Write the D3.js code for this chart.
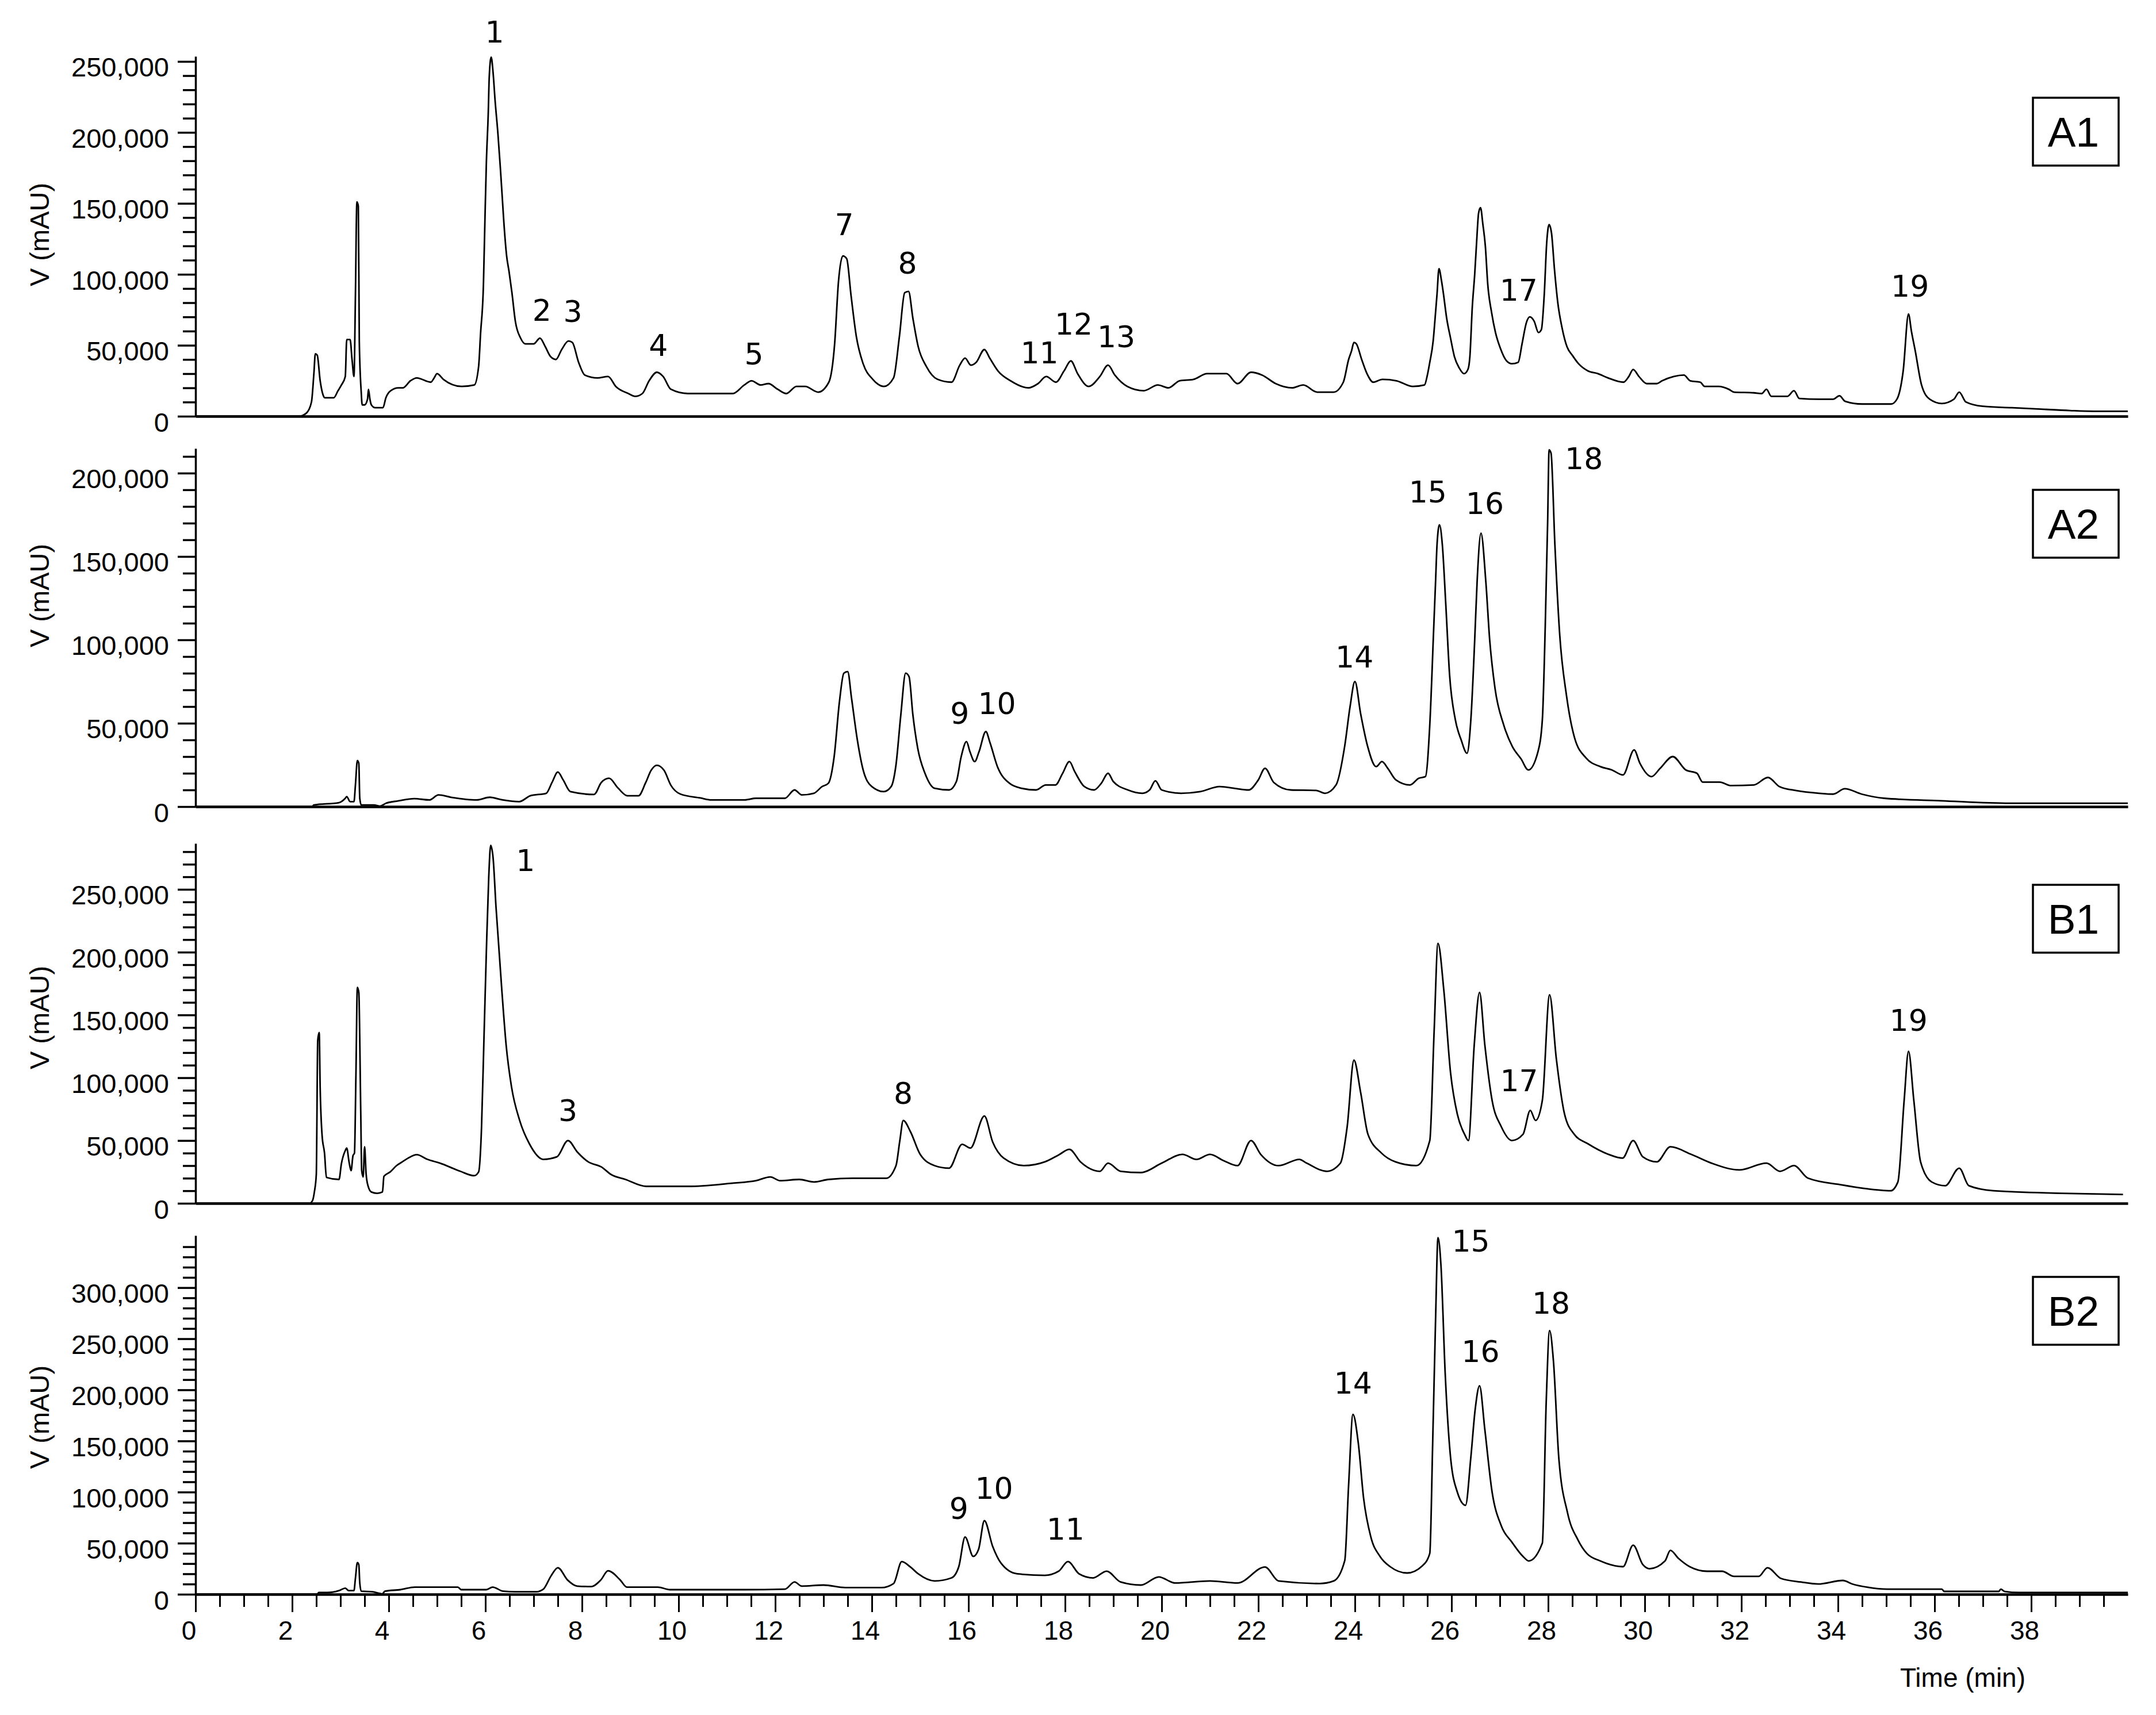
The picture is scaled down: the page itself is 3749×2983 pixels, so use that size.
<!DOCTYPE html>
<html><head><meta charset="utf-8">
<script src="https://cdn.jsdelivr.net/npm/d3@7"></script>
<style>html,body{margin:0;padding:0;background:#fff}</style>
</head><body>
<svg id="chart" width="3749" height="2983" xmlns="http://www.w3.org/2000/svg"></svg>
<script>
// ---------- data (time in min, signal in thousands of mAU) ----------
const timeMajorTicks = [0,2,4,6,8,10,12,14,16,18,20,22,24,26,28,30,32,34,36,38];
const panelNames = ["A1","A2","B1","B2"];
const xAxisTitle = "Time (min)";
const yAxisTitle = "V (mAU)";

const a1Data = [[0,0],[2.14,0],[2.3,2.4],[2.4,10],[2.45,30],[2.48,44],[2.52,43],[2.58,25],[2.64,15],[2.68,13],[2.86,13],[2.95,18],[3.02,22],[3.1,28],[3.13,54],[3.2,54],[3.24,40],[3.28,28],[3.31,85],[3.34,151],[3.37,148],[3.39,53],[3.43,17],[3.45,8],[3.5,8],[3.56,12],[3.58,19],[3.61,12],[3.64,8],[3.72,6],[3.88,6],[3.94,13],[4.04,18],[4.2,20],[4.29,20],[4.45,25],[4.58,27],[4.87,24],[4.94,27],[5.0,30],[5.13,26],[5.51,21],[5.77,22],[5.86,35],[5.9,58],[5.96,93],[5.99,137],[6.02,178],[6.06,214],[6.08,239],[6.12,253],[6.16,242],[6.2,223],[6.26,199],[6.31,175],[6.35,154],[6.38,138],[6.44,113],[6.49,102],[6.55,87],[6.62,67],[6.73,55],[6.83,51],[7.0,51],[7.13,55],[7.24,49],[7.35,42],[7.46,40],[7.58,47],[7.72,53],[7.8,52],[7.93,38],[8.06,29],[8.32,27],[8.54,28],[8.7,21],[8.96,16],[9.1,14],[9.25,16],[9.39,25],[9.55,31],[9.68,28],[9.84,19],[10.19,16],[11.12,16],[11.36,22],[11.51,25],[11.7,22],[11.86,23],[12.05,19],[12.23,16],[12.44,21],[12.62,21],[12.89,17],[13.11,24],[13.23,51],[13.31,95],[13.4,113],[13.48,111],[13.57,85],[13.68,56],[13.82,37],[14.02,26],[14.25,21],[14.45,27],[14.57,56],[14.68,87],[14.76,88],[14.85,69],[14.96,49],[15.13,35],[15.36,26],[15.65,24],[15.82,36],[15.93,41],[16.05,36],[16.16,38],[16.33,47],[16.44,41],[16.61,32],[16.87,25],[17.24,20],[17.44,23],[17.61,28],[17.81,24],[17.98,32],[18.12,39],[18.26,30],[18.49,21],[18.72,28],[18.89,36],[19.03,29],[19.29,21],[19.63,18],[19.92,22],[20.14,20],[20.37,25],[20.66,26],[20.94,30],[21.34,30],[21.57,23],[21.85,31],[22.08,29],[22.36,23],[22.7,20],[22.93,22],[23.22,17],[23.56,17],[23.76,24],[23.87,40],[23.93,46],[23.98,52],[24.03,51],[24.14,40],[24.25,30],[24.38,24],[24.57,26],[24.86,25],[25.2,21],[25.44,22],[25.5,29],[25.55,38],[25.62,53],[25.66,69],[25.7,86],[25.74,104],[25.79,96],[25.83,87],[25.9,69],[25.98,55],[26.06,42],[26.16,34],[26.26,30],[26.34,33],[26.38,42],[26.43,77],[26.48,100],[26.52,123],[26.56,143],[26.6,147],[26.65,135],[26.7,120],[26.75,93],[26.83,73],[26.91,59],[27.01,48],[27.14,39],[27.25,37],[27.38,38],[27.46,51],[27.55,66],[27.62,70],[27.71,67],[27.8,59],[27.86,61],[27.92,86],[27.97,122],[28.02,135],[28.07,129],[28.13,104],[28.2,80],[28.29,62],[28.39,49],[28.5,43],[28.63,37],[28.82,32],[29.03,30],[29.24,27],[29.56,24],[29.67,28],[29.76,33],[29.88,28],[30.04,23],[30.25,23],[30.36,25],[30.6,28],[30.81,29],[30.94,25],[31.15,24],[31.24,21],[31.53,21],[31.74,19],[31.85,17],[32.26,16.5],[32.42,16],[32.52,19],[32.62,14],[32.95,14],[33.09,18],[33.2,12.5],[33.6,12],[33.9,12],[34.03,14.4],[34.15,10.5],[34.5,8.6],[35.1,8.6],[35.22,12],[35.35,32],[35.46,72],[35.52,60],[35.6,46],[35.73,22],[35.9,12],[36.15,9],[36.4,12],[36.51,17],[36.65,10],[37.0,7],[37.6,6],[38.2,5],[38.8,4],[39.3,3.5],[40,3.5]];

const a2Data = [[0,0],[2.41,0],[2.45,1],[2.97,2.4],[3.1,5],[3.13,6],[3.2,3],[3.28,3],[3.31,13],[3.35,27.6],[3.38,26],[3.4,5],[3.43,1],[3.69,1],[3.82,0.3],[3.94,2],[4.19,3.4],[4.53,4.8],[4.84,4],[5.03,7],[5.29,5.6],[5.82,4],[6.09,5.6],[6.36,4],[6.7,3],[6.93,6.5],[7.26,8],[7.38,14.5],[7.5,20.7],[7.61,16],[7.76,9],[8.25,7.3],[8.4,14.5],[8.56,17],[8.75,11],[8.94,6.5],[9.17,6.5],[9.32,14.5],[9.43,21.7],[9.55,24.8],[9.7,21.7],[9.84,12.8],[10.04,7.5],[10.45,5.2],[10.68,4],[11.37,4],[11.6,5],[12.2,5],[12.4,10],[12.55,7],[12.8,8],[12.97,12],[13.1,14],[13.22,30],[13.33,63],[13.42,80],[13.5,81],[13.58,65],[13.7,40],[13.82,22],[14.0,12],[14.25,9],[14.4,12],[14.5,25],[14.6,55],[14.7,80],[14.77,78],[14.85,55],[14.95,35],[15.1,20],[15.3,11],[15.6,10],[15.75,15],[15.85,30],[15.96,39],[16.03,33],[16.13,27],[16.22,33],[16.36,45],[16.45,38],[16.6,24],[16.85,14],[17.1,11],[17.4,10],[17.6,13],[17.8,13],[17.95,20],[18.09,27],[18.2,21],[18.4,12],[18.6,10],[18.75,14],[18.89,20],[19.0,15],[19.3,10],[19.6,8],[19.75,10],[19.87,15.5],[20.0,10],[20.4,8],[20.8,9],[21.2,12],[21.5,11],[21.8,10],[22.0,16],[22.14,23],[22.32,14.5],[22.67,10],[23.2,9.7],[23.38,8],[23.61,13],[23.79,36.5],[23.9,60],[24.0,75],[24.12,55.5],[24.26,36.5],[24.44,24],[24.56,27],[24.68,23],[24.85,16],[25.14,13],[25.32,17],[25.46,18],[25.55,49],[25.63,106],[25.67,135],[25.7,157],[25.75,169],[25.81,157],[25.88,122],[25.96,79],[26.08,52],[26.2,40],[26.32,32],[26.4,52],[26.48,100],[26.53,135],[26.61,164],[26.71,135],[26.79,100],[26.9,71],[27.08,49],[27.26,36],[27.44,28.6],[27.59,22],[27.79,33],[27.88,52],[27.94,108],[27.99,171],[28.02,214],[28.06,212],[28.14,157],[28.24,103],[28.38,66.6],[28.55,41],[28.79,29],[29.08,24],[29.32,22],[29.55,19],[29.78,34],[29.9,26],[30.14,18],[30.32,23],[30.58,30],[30.85,22],[31.08,20],[31.2,14.7],[31.55,14.7],[31.79,12.6],[32.26,13],[32.55,17.5],[32.79,12],[33.14,9.6],[33.61,8],[33.9,7.5],[34.14,10.7],[34.49,7.5],[34.96,5],[36.14,3.5],[37.55,2],[40,2]];

const b1Data = [[0,0],[2.36,0],[2.42,2],[2.46,9],[2.5,23],[2.53,130],[2.56,136],[2.58,92],[2.62,54],[2.67,40],[2.71,20.6],[2.97,19],[3.02,31.6],[3.1,42],[3.13,44],[3.18,32.5],[3.22,26],[3.26,38],[3.29,40],[3.32,101],[3.35,172],[3.38,168],[3.42,73],[3.44,26],[3.47,21],[3.5,45],[3.53,24],[3.57,14],[3.64,9],[3.76,8],[3.87,9],[3.9,21.5],[4.03,25],[4.16,30],[4.28,33],[4.4,36],[4.58,38.7],[4.8,35],[5.06,32],[5.48,25.5],[5.77,22],[5.86,25],[5.92,60],[5.97,130],[6.02,200],[6.07,260],[6.11,285],[6.16,275],[6.22,236],[6.34,170],[6.43,126],[6.54,93],[6.71,66],[6.91,47.5],[7.2,35],[7.48,37],[7.71,50],[7.9,41],[8.13,33],[8.4,29],[8.6,23],[8.9,19],[9.33,13.5],[10.2,13.5],[11.1,16],[11.6,18],[11.9,21],[12.1,18],[12.5,19],[12.8,17],[13.1,19],[13.6,20],[14.3,20],[14.5,30],[14.58,50],[14.65,66],[14.8,57],[15.0,39],[15.3,30],[15.6,28],[15.87,47],[16.04,44],[16.33,69.5],[16.5,49],[16.73,36],[17.15,30],[17.58,33],[17.87,38.6],[18.09,43],[18.32,33],[18.72,25.5],[18.89,32],[19.15,25.5],[19.57,24.5],[20.0,32],[20.43,39],[20.72,35],[21.0,39],[21.28,34],[21.57,30],[21.85,50],[22.05,39],[22.42,30],[22.85,35],[23.0,32],[23.42,25.5],[23.7,32],[23.84,61],[23.98,114],[24.12,88],[24.27,55],[24.55,40],[24.84,33],[25.27,30],[25.55,50],[25.64,137],[25.72,207],[25.84,170],[25.98,104],[26.12,71],[26.27,55],[26.35,50],[26.47,126],[26.58,168],[26.69,126],[26.84,82],[27.03,61],[27.25,50],[27.48,55],[27.63,74],[27.74,66],[27.88,82],[28.03,166],[28.17,115],[28.34,71],[28.54,55],[28.82,47.5],[29.25,39],[29.54,36],[29.76,50],[29.96,37],[30.25,33],[30.53,45],[30.96,39],[31.38,32],[31.96,26.6],[32.52,32],[32.8,25.5],[33.09,30],[33.38,20],[34.09,14.6],[34.52,12],[35.09,10],[35.24,17],[35.37,82],[35.46,121],[35.57,82],[35.71,33],[35.94,17],[36.22,14],[36.51,28],[36.71,14],[37.22,10],[38.64,8],[39.9,7]];

const b2Data = [[0,0],[2.52,0],[2.55,1.7],[2.73,1.7],[2.97,3.6],[3.1,6],[3.17,3.6],[3.28,3.6],[3.31,15.7],[3.35,31],[3.38,29],[3.4,11],[3.43,3],[3.66,2.5],[3.87,0.5],[3.92,3],[4.24,4.5],[4.54,7],[4.94,7],[5.43,7],[5.5,4.5],[6.02,4.5],[6.15,7],[6.37,3],[6.62,2.5],[7.06,2.5],[7.2,5],[7.36,18],[7.5,26],[7.7,14],[7.9,8],[8.19,7.5],[8.39,14],[8.54,23],[8.79,14],[8.93,7],[9.57,7],[9.82,4.5],[11.35,4.5],[12.2,5],[12.4,12],[12.55,8],[13.0,9],[13.45,6.5],[14.2,6.5],[14.45,10.5],[14.62,32],[14.8,26.6],[14.96,20],[15.3,13],[15.65,16],[15.8,27],[15.93,56],[16.1,37],[16.21,44],[16.33,72],[16.5,47],[16.67,30.7],[17.01,20],[17.58,18.5],[17.87,22.6],[18.06,32],[18.29,20],[18.58,16],[18.86,22.6],[19.15,12],[19.57,9],[19.94,17],[20.28,11],[21.0,13],[21.57,11],[22.14,26.6],[22.42,13],[23.27,10.5],[23.56,13],[23.79,33],[23.87,107],[23.96,176],[24.07,148],[24.18,94],[24.33,56],[24.52,37],[24.73,27],[25.08,20.8],[25.4,28],[25.55,40],[25.61,148],[25.67,269],[25.72,349],[25.78,323],[25.87,215],[25.98,134],[26.12,100],[26.29,87],[26.4,134],[26.49,181],[26.58,204],[26.69,161],[26.84,100],[27.03,67],[27.25,51],[27.48,37],[27.6,32.6],[27.88,50],[27.96,188],[28.03,258],[28.11,228],[28.22,134],[28.4,80],[28.62,53],[28.8,40],[29.08,32.6],[29.55,27],[29.76,48],[29.96,29],[30.1,25],[30.42,32.6],[30.53,43],[30.7,35],[30.93,27],[31.29,22.5],[31.6,22.5],[31.85,17.5],[32.36,17.5],[32.54,26],[32.82,15.5],[33.23,12],[33.59,10],[34.1,13.5],[34.3,10],[34.62,6.8],[35.02,5],[36.15,5],[36.2,2.8],[37.33,2.8],[37.37,5],[37.45,2.8],[37.74,1.7],[40,1.7]];

// peak labels: [text, time, signal]
const a1Labels = [["1",6.19,271],["2",7.17,75],["3",7.81,74],["4",9.58,50],["5",11.56,44],["7",13.43,135],["8",14.74,108],["11",17.47,45],["12",18.18,65],["13",19.06,56],["17",27.39,89],["19",35.49,92]];
const a2Labels = [["9",15.82,56],["10",16.59,62],["14",23.99,90],["15",25.51,189],["16",26.69,182],["18",28.74,209]];
const b1Labels = [["1",6.83,273],["3",7.71,74],["8",14.65,88],["17",27.4,98],["19",35.46,146]];
const b2Labels = [["9",15.8,84],["10",16.53,104],["11",18.01,64],["14",23.96,207],["15",26.4,346],["16",26.6,238],["18",28.06,285]];

// ---------- layout ----------
const panels = [
  {name: panelNames[0], data: a1Data, labels: a1Labels, yMax: 253.6, top: 98,   bottom: 724,  titleY: 408},
  {name: panelNames[1], data: a2Data, labels: a2Labels, yMax: 214.8, top: 780,  bottom: 1403, titleY: 1036},
  {name: panelNames[2], data: b1Data, labels: b1Labels, yMax: 286.6, top: 1467, bottom: 2093, titleY: 1770},
  {name: panelNames[3], data: b2Data, labels: b2Labels, yMax: 351,   top: 2149, bottom: 2773, titleY: 2465}
];
const X0 = 340, X1 = 3700;
const AX_FONT = "'Liberation Sans', Arial, Helvetica, sans-serif";
const PEAK_FONT = "'DejaVu Sans', 'Noto Sans', sans-serif";

const svg = d3.select("#chart");
svg.append("rect").attr("width", 3749).attr("height", 2983).attr("fill", "#fff");

const x = d3.scaleLinear().domain([0, 40]).range([X0, X1]);
const fmt = d3.format(",");

panels.forEach((p, i) => {
  const y = d3.scaleLinear().domain([0, p.yMax]).range([p.bottom, p.top]);
  const tickLimit = p.yMax - 2;
  const major = d3.range(0, tickLimit, 50);
  const minor = d3.range(0, tickLimit, 10).filter(v => v % 50 !== 0);

  // minor y ticks
  const gMinor = svg.append("g").attr("transform", `translate(${X0},0)`)
    .call(d3.axisLeft(y).tickValues(minor).tickSize(22).tickSizeOuter(0).tickFormat(""));
  gMinor.select(".domain").remove();
  gMinor.selectAll(".tick line").attr("stroke", "#000").attr("stroke-width", 3.5);

  // major y ticks + labels + domain
  const gY = svg.append("g").attr("transform", `translate(${X0},0)`)
    .call(d3.axisLeft(y).tickValues(major).tickSize(31).tickSizeOuter(0).tickPadding(15)
      .tickFormat(d => fmt(Math.round(d * 1000))));
  gY.select(".domain").attr("stroke", "#000").attr("stroke-width", 3.5);
  gY.selectAll(".tick line").attr("stroke", "#000").attr("stroke-width", 3.5);
  gY.selectAll(".tick text").attr("font-family", AX_FONT).attr("font-size", 47)
    .attr("fill", "#000").attr("dy", 26);

  // baseline / x axis
  if (i < panels.length - 1) {
    const gB = svg.append("g").attr("transform", `translate(0,${p.bottom})`)
      .call(d3.axisBottom(x).tickValues([]).tickSizeOuter(0));
    gB.select(".domain").attr("stroke", "#000").attr("stroke-width", 4.5);
  } else {
    const minorX = d3.range(0.5, 40, 0.5).filter(t => t % 2 !== 0);
    const gXm = svg.append("g").attr("transform", `translate(0,${p.bottom})`)
      .call(d3.axisBottom(x).tickValues(minorX).tickSize(22).tickSizeOuter(0).tickFormat(""));
    gXm.select(".domain").remove();
    gXm.selectAll(".tick line").attr("stroke", "#000").attr("stroke-width", 3);
    const gX = svg.append("g").attr("transform", `translate(0,${p.bottom})`)
      .call(d3.axisBottom(x).tickValues(timeMajorTicks).tickSize(31).tickSizeOuter(0).tickFormat(d3.format("d")));
    gX.select(".domain").attr("stroke", "#000").attr("stroke-width", 4.5);
    gX.selectAll(".tick line").attr("stroke", "#000").attr("stroke-width", 3);
    gX.selectAll(".tick text").attr("font-family", AX_FONT).attr("font-size", 46)
      .attr("fill", "#000").attr("x", -12).attr("y", 79).attr("dy", 0);
    svg.append("text").attr("x", 3413).attr("y", 2934).attr("text-anchor", "middle")
      .attr("font-family", AX_FONT).attr("font-size", 46).text(xAxisTitle);
  }

  // y title
  svg.append("text").attr("transform", `translate(68,${p.titleY}) rotate(-90)`)
    .attr("text-anchor", "middle").attr("dy", "0.36em")
    .attr("font-family", AX_FONT).attr("font-size", 47).text(yAxisTitle);

  // chromatogram
  const line = d3.line().x(d => x(d[0])).y(d => y(d[1])).curve(d3.curveMonotoneX);
  svg.append("path").datum(p.data).attr("d", line)
    .attr("fill", "none").attr("stroke", "#000").attr("stroke-width", 2.8)
    .attr("stroke-linejoin", "round");

  // peak labels
  svg.append("g").selectAll("text").data(p.labels).join("text")
    .attr("x", d => x(d[1])).attr("y", d => y(d[2])).attr("dy", "0.36em")
    .attr("text-anchor", "middle").attr("font-family", PEAK_FONT).attr("font-size", 52)
    .attr("fill", "#000").text(d => d[0]);

  // panel name box
  const bx = 3535, by = p.top + 72, bw = 149, bh = 118;
  svg.append("rect").attr("x", bx).attr("y", by).attr("width", bw).attr("height", bh)
    .attr("fill", "#fff").attr("stroke", "#000").attr("stroke-width", 3.5);
  svg.append("text").attr("x", bx + bw / 2 - 4).attr("y", by + bh / 2).attr("dy", "0.36em")
    .attr("text-anchor", "middle").attr("font-family", AX_FONT).attr("font-size", 73)
    .text(p.name);
});
</script>
</body></html>
